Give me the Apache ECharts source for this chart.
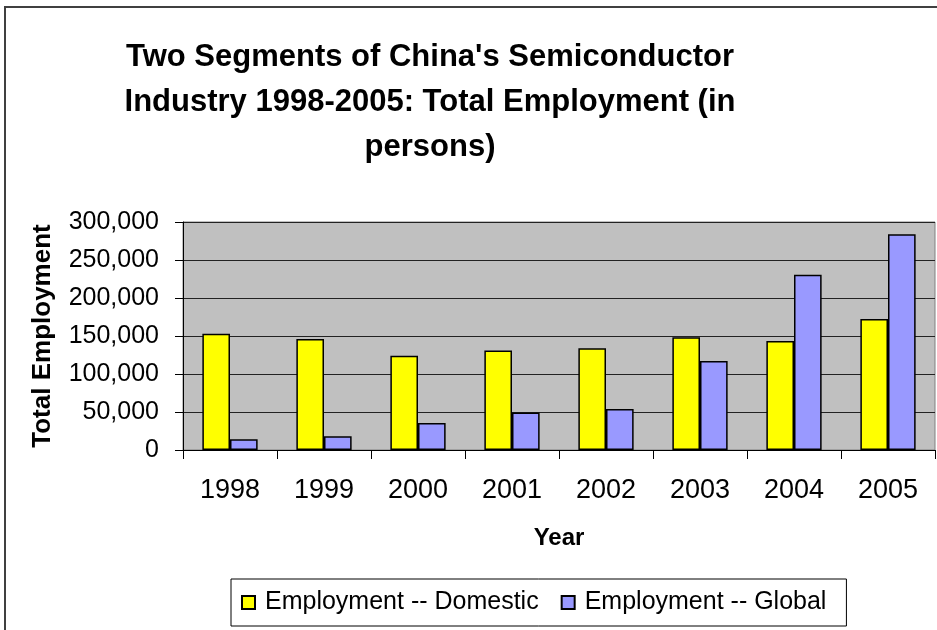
<!DOCTYPE html>
<html>
<head>
<meta charset="utf-8">
<script src="https://cdn.jsdelivr.net/npm/echarts@6/dist/echarts.min.js"></script>
<style>
html,body{margin:0;padding:0;background:#fff;}
#chart{width:937px;height:630px;}
</style>
</head>
<body>
<div id="chart"></div>
<script>
const titleLines = ["Two Segments of China's Semiconductor", "Industry 1998-2005: Total Employment (in", "persons)"];
const years = ["1998", "1999", "2000", "2001", "2002", "2003", "2004", "2005"];
const domestic = [153000, 146000, 124000, 131000, 134000, 148500, 143500, 172500];
const global = [14000, 18000, 35500, 49500, 54000, 117000, 230500, 284000];
const seriesNames = ["Employment -- Domestic", "Employment -- Global"];
const yTicks = { min: 0, max: 300000, interval: 50000 };

const FONT = "'Liberation Sans', Arial, sans-serif";
const chart = echarts.init(document.getElementById('chart'), null, { renderer: 'canvas' });
chart.setOption({
  animation: false,
  backgroundColor: '#fff',
  graphic: [
    { type: 'rect', shape: { x: 5, y: 7, width: 1000, height: 1000 }, style: { fill: 'none', stroke: '#404040', lineWidth: 2 }, silent: true },
    { type: 'text', x: 430, y: 35, style: { text: titleLines.join('\n'), font: "bold 31px " + FONT, fill: '#000', align: 'center', verticalAlign: 'top', lineHeight: 45 } }
  ],
  grid: { left: 183, right: 2, top: 222, bottom: 180, show: true, backgroundColor: '#C0C0C0', borderColor: '#808080', borderWidth: 1 },
  legend: {
    left: 231, top: 579,
    orient: 'horizontal',
    padding: [11, 20, 11, 10],
    borderColor: '#000', borderWidth: 1,
    itemWidth: 13, itemHeight: 13, itemGap: 22,
    icon: 'rect',
    textStyle: { fontFamily: FONT, fontSize: 25, color: '#000', padding: [0, 0, 0, 5] },
    data: seriesNames
  },
  xAxis: {
    type: 'category', data: years,
    name: 'Year', nameLocation: 'middle', nameGap: 76,
    nameTextStyle: { fontFamily: FONT, fontSize: 24, fontWeight: 'bold', color: '#000' },
    axisLine: { lineStyle: { color: '#000', width: 1 } },
    axisTick: { show: true, alignWithLabel: false, length: 9, lineStyle: { color: '#000' } },
    axisLabel: { fontFamily: FONT, fontSize: 27, color: '#000', margin: 27 },
    splitLine: { show: false }
  },
  yAxis: {
    type: 'value', min: yTicks.min, max: yTicks.max, interval: yTicks.interval,
    name: 'Total Employment', nameLocation: 'middle', nameGap: 127,
    nameTextStyle: { fontFamily: FONT, fontSize: 26, fontWeight: 'bold', color: '#000' },
    axisLine: { show: true, lineStyle: { color: '#000', width: 1 } },
    axisTick: { show: true, length: 8, lineStyle: { color: '#000' } },
    axisLabel: { fontFamily: FONT, fontSize: 25, color: '#000', margin: 24, formatter: v => v.toLocaleString('en-US') },
    splitLine: { show: true, lineStyle: { color: '#222', width: 1 } }
  },
  series: [
    { name: seriesNames[0], type: 'bar', data: domestic, barWidth: '29.4%', barGap: '0%',
      itemStyle: { color: '#FFFF00', borderColor: '#000', borderWidth: 1.5 } },
    { name: seriesNames[1], type: 'bar', data: global, barWidth: '29.4%', barGap: '0%',
      itemStyle: { color: '#9999FF', borderColor: '#000', borderWidth: 1.5 } }
  ]
});
</script>
</body>
</html>
